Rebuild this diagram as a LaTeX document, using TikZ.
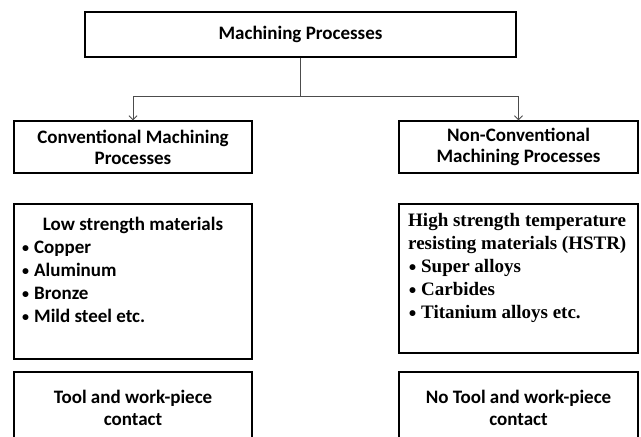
\documentclass[tikz,border=0pt]{standalone}
\usepackage{fontspec}
\setmainfont{Carlito}
\newfontfamily\hstrfont{Liberation Serif}
\newfontfamily\dotfont{Carlito}
\usetikzlibrary{positioning,arrows.meta}

\newcommand{\dotitem}{\raisebox{1pt}{\dotfont\fontsize{14}{14}\selectfont •}\hspace{5pt}}

\begin{document}
\begin{tikzpicture}[x=1pt,y=-1pt,
    box/.style={draw, line width=1.4pt, inner sep=0pt, font=\bfseries\fontsize{19}{22}\selectfont, align=center},
    list/.style={inner sep=0pt, align=left, anchor=north west, font=\bfseries\fontsize{19}{23}\selectfont},
    link/.style={draw=black!70, line width=0.9pt}]
\clip (0,0) rectangle (641,437);

\node[box, minimum width=431, minimum height=45] (mp) at (300.5,34.5) {Machining Processes};

\node[box, minimum width=238, minimum height=52] (cmp) at (133,147) {\raisebox{-1pt}{Conventional Machining}\\Processes};
\node[box, minimum width=239, minimum height=52] (ncmp) at (518.5,147) {\raisebox{-1pt}{Non-Conventional}\\Machining Processes};

% materials
\node[box, minimum width=238, minimum height=155] (low) at (133,281.5) {};
\node[box, minimum width=239, minimum height=149] (high) at (518.5,278.5) {};
\node[font=\bfseries\fontsize{19}{23}\selectfont, inner sep=0pt] (lowhead) at (133,225) {Low strength materials};
\node[list] (lowtxt) at (22,241) {\dotitem Copper\\ \dotitem Aluminum\\ \dotitem Bronze\\ \dotitem Mild steel etc.};
\node[list, font=\hstrfont\bfseries\fontsize{19}{23}\selectfont] (hightxt) at (408,213) {High strength temperature\\
  resisting materials (HSTR)\\ \hspace*{1pt}\dotitem Super alloys\\ \hspace*{1pt}\dotitem Carbides\\ \hspace*{1pt}\dotitem Titanium alloys etc.};

% contact
\node[box, minimum width=238, minimum height=100] (tool) at (133,422) {};
\node[box, minimum width=239, minimum height=100] (notool) at (518.5,422) {};
\node[font=\bfseries\fontsize{19}{22}\selectfont, align=center] (tooltxt) at (133,408) {Tool and work-piece\\contact};
\node[font=\bfseries\fontsize{19}{22}\selectfont, align=center] (notooltxt) at (518.5,408) {No Tool and work-piece\\contact};

\coordinate (split) at (mp.south |- 0,96);
\draw[link] (mp.south) -- (split);
\draw[link, -{Straight Barb[length=4pt,width=8pt]}] (split) -| (cmp.north);
\draw[link, -{Straight Barb[length=4pt,width=8pt]}] (split) -| (ncmp.north);

\end{tikzpicture}
\end{document}
